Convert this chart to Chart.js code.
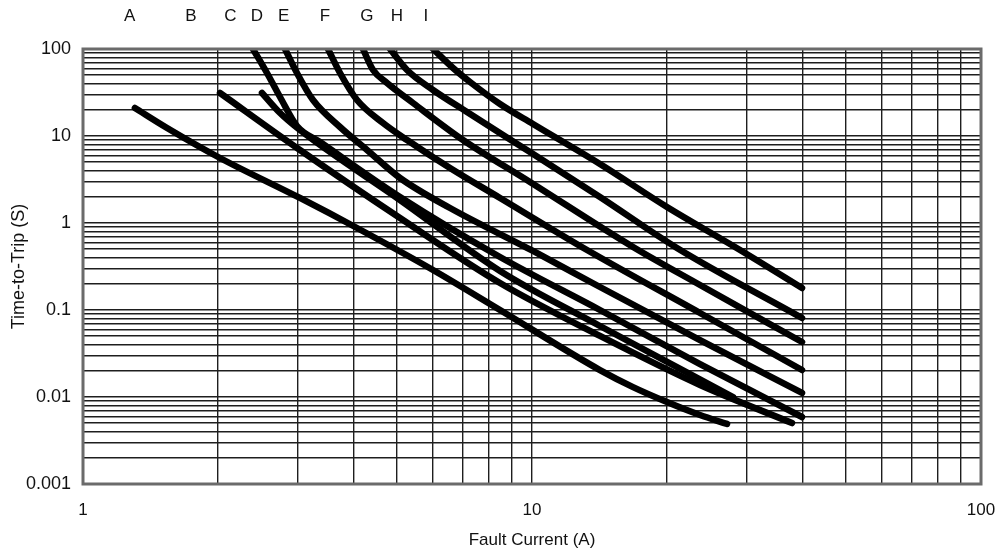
<!DOCTYPE html>
<html><head><meta charset="utf-8">
<script src="https://cdn.jsdelivr.net/npm/chart.js@4/dist/chart.umd.min.js"></script>
<style>html,body{margin:0;padding:0;background:#fff}canvas{display:block}</style>
</head><body>
<canvas id="c" width="1001" height="553"></canvas>
<script>
// ---- data ----
const topLabels   = ['A','B','C','D','E','F','G','H','I'];
const topLabelPos = [1.27, 1.74, 2.13, 2.44, 2.80, 3.46, 4.29, 5.0, 5.8];

const xTickLabels = [1, 10, 100];
const yTickLabels = ['0.001', '0.01', '0.1', '1', '10', '100'];

const curveA_x = [1.305, 1.539, 2.019, 3.042, 4.077, 6.019, 8.487, 14.17, 16.79, 19.98, 23.67, 27.19];
const curveA_y = [20.98, 12.36, 5.586, 1.939, 0.876, 0.2884, 0.1, 0.0204, 0.0130, 0.00876, 0.00621, 0.0049];
const curveB_x = [2.019, 3.042, 5.082, 8.487, 14.17, 23.67, 37.94];
const curveB_y = [31.2, 6.905, 1.141, 0.2043, 0.0503, 0.01374, 0.00502];
const curveC_x = [2.504, 2.747, 3.042, 5.082, 8.487, 14.17, 28.04];
const curveC_y = [31.2, 18.38, 11.72, 1.838, 0.2808, 0.0655, 0.01];
const curveD_x = [2.391, 2.569, 2.747, 2.996, 3.372, 5.082, 8.487, 14.17, 23.67, 39.94];
const curveD_y = [100, 52.98, 28.08, 13.03, 8.531, 1.990, 0.4067, 0.1, 0.02394, 0.00589];
const curveE_x = [2.818, 2.996, 3.253, 3.736, 4.291, 5.082, 6.567, 10.05, 14.17, 23.67, 39.94];
const curveE_y = [100, 52.98, 25.94, 12.69, 6.905, 3.290, 1.487, 0.4769, 0.1838, 0.04518, 0.01112];
const curveF_x = [3.513, 3.736, 4.077, 4.658, 5.268, 6.567, 8.487, 13.26, 23.67, 39.94];
const curveF_y = [100, 52.98, 25.94, 14.11, 8.995, 4.287, 1.939, 0.4895, 0.0924, 0.02043];
const curveG_x = [4.204, 4.426, 4.755, 5.433, 7.020, 9.897, 16.79, 23.67, 39.94];
const curveG_y = [100, 57.36, 40.66, 23.95, 8.995, 2.960, 0.5299, 0.1938, 0.04286];
const curveH_x = [4.828, 5.268, 6.019, 7.166, 8.619, 9.897, 14.17, 21.03, 39.94];
const curveH_y = [100, 57.36, 33.8, 18.88, 10.27, 6.549, 1.990, 0.5161, 0.0809];
const curveI_x = [6.019, 6.670, 7.278, 8.487, 10.05, 14.17, 19.98, 29.06, 39.94];
const curveI_y = [100, 60.47, 41.76, 23.32, 13.74, 4.767, 1.527, 0.4895, 0.179];

const curves = [
  [curveA_x, curveA_y], [curveB_x, curveB_y], [curveC_x, curveC_y],
  [curveD_x, curveD_y], [curveE_x, curveE_y], [curveF_x, curveF_y],
  [curveG_x, curveG_y], [curveH_x, curveH_y], [curveI_x, curveI_y]
];

// ---- grid tick positions (log decades) ----
function decadeTicks(minExp, maxExp) {
  const out = [];
  for (let e = minExp; e < maxExp; e++) {
    for (let m = 1; m <= 9; m++) out.push(parseFloat((m * Math.pow(10, e)).toPrecision(6)));
  }
  out.push(Math.pow(10, maxExp));
  return out;
}
const isDecade = v => Math.abs(Math.log10(v) - Math.round(Math.log10(v))) < 1e-9;

const FAM = '"Liberation Sans", Arial, sans-serif';
const FONT = {family: FAM, size: 17};
const YFONT = {family: FAM, size: 18};
const TXT = '#111';
const GRID = '#1e1e1e';

const datasets = curves.map(([xs, ys]) => ({
  data: xs.map((x, i) => ({x: x, y: ys[i]})),
  showLine: true,
  borderColor: '#000',
  backgroundColor: '#000',
  borderWidth: 6.5,
  borderCapStyle: 'round',
  borderJoinStyle: 'round',
  pointRadius: 0,
  cubicInterpolationMode: 'monotone',
  clip: 0,
  xAxisID: 'x', yAxisID: 'y'
}));

const zeroPad = s => { s.paddingLeft = 0; s.paddingRight = 0; s.paddingTop = 0; s.paddingBottom = 0; };

const framePlugin = {
  id: 'frame',
  afterDraw(chart) {
    const a = chart.chartArea, ctx = chart.ctx;
    ctx.save();
    ctx.strokeStyle = '#6b6b6b';
    ctx.lineWidth = 3;
    ctx.strokeRect(a.left, a.top, a.right - a.left, a.bottom - a.top);
    ctx.restore();
  }
};

new Chart(document.getElementById('c'), {
  type: 'scatter',
  data: {datasets},
  options: {
    responsive: false,
    animation: false,
    devicePixelRatio: 1,
    layout: {padding: {left: 0, right: 20, top: 0, bottom: 0}},
    plugins: {legend: {display: false}, tooltip: {enabled: false}},
    scales: {
      x: {
        type: 'logarithmic', position: 'bottom', min: 1, max: 100,
        afterBuildTicks: s => { s.ticks = decadeTicks(0, 2).map(v => ({value: v})); },
        afterFit: s => { s.height = 69; zeroPad(s); },
        grid: {color: GRID, lineWidth: 1.4, drawTicks: false},
        border: {display: false},
        ticks: {
          autoSkip: false, maxRotation: 0, minRotation: 0, padding: 16,
          color: TXT, font: FONT,
          callback: v => {
            const hit = xTickLabels.find(t => Math.abs(t - v) < 1e-9);
            return hit !== undefined ? String(hit) : '';
          }
        },
        title: {display: true, text: 'Fault Current (A)', color: TXT, font: FONT, padding: {top: 0, bottom: 2}}
      },
      xTop: {
        type: 'logarithmic', position: 'top', min: 1, max: 100,
        afterBuildTicks: s => { s.ticks = topLabelPos.map(v => ({value: v})); },
        afterFit: s => { s.height = 49; zeroPad(s); },
        grid: {display: false, drawTicks: false},
        border: {display: false},
        ticks: {
          autoSkip: false, maxRotation: 0, minRotation: 0, padding: 22,
          color: TXT, font: FONT,
          callback: (v, i) => topLabels[i]
        }
      },
      y: {
        type: 'logarithmic', position: 'left', min: 0.001, max: 100,
        afterBuildTicks: s => { s.ticks = decadeTicks(-3, 2).map(v => ({value: v})); },
        afterFit: s => { s.width = 83; zeroPad(s); },
        grid: {color: GRID, lineWidth: 1.4, drawTicks: false},
        border: {display: false},
        ticks: {
          autoSkip: false, padding: 12, color: TXT, font: YFONT,
          callback: v => isDecade(v) ? yTickLabels[Math.round(Math.log10(v)) + 3] : ''
        },
        title: {display: true, text: 'Time-to-Trip (S)', color: TXT, font: YFONT, padding: {top: 8, bottom: 0}}
      }
    }
  },
  plugins: [framePlugin]
});
</script>
</body></html>
